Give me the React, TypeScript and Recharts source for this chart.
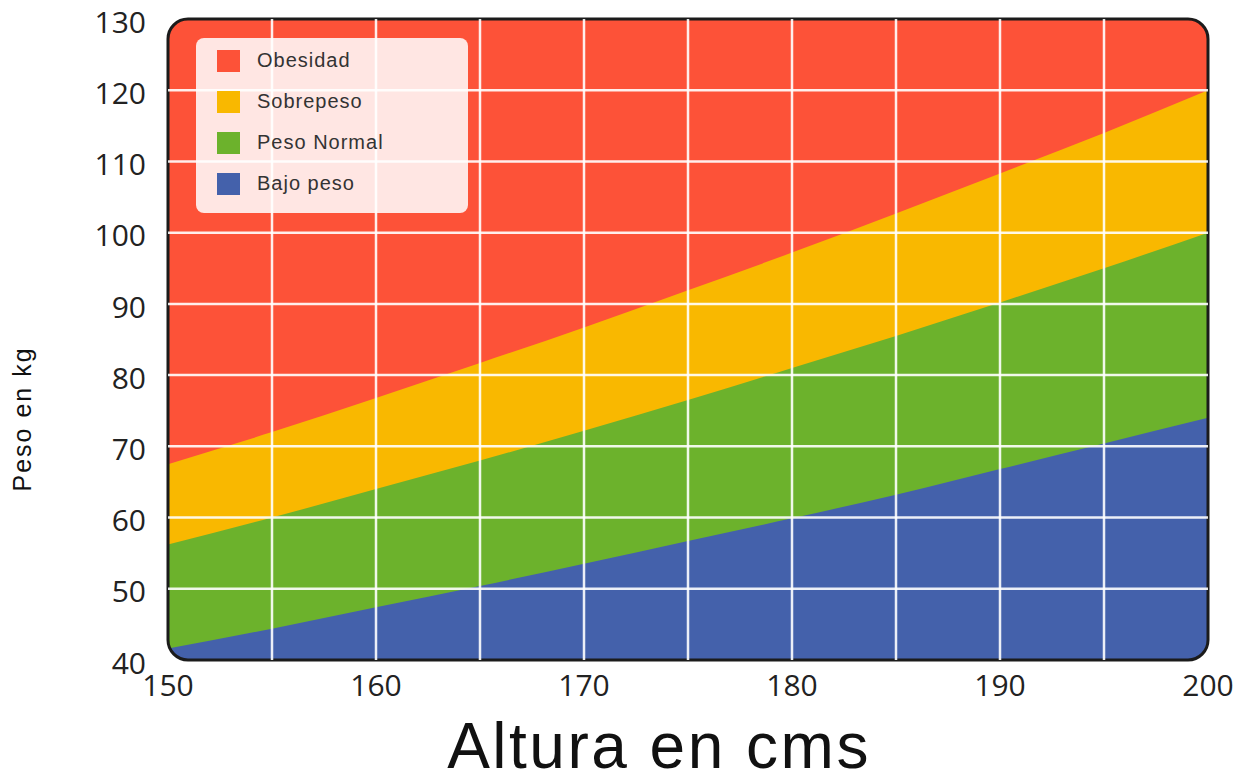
import React from 'react';
import { AreaChart, Area, XAxis, YAxis, ReferenceLine, ReferenceArea, Legend, Label } from 'recharts';

const heights = [150, 155, 160, 165, 170, 175, 180, 185, 190, 195, 200];
const bajoPeso = [41.6, 44.4, 47.4, 50.4, 53.5, 56.7, 59.9, 63.2, 66.8, 70.4, 74];
const pesoNormal = [56.2, 60, 64, 68, 72.2, 76.5, 81, 85.5, 90.2, 95, 100];
const sobrepeso = [67.5, 72, 76.8, 81.7, 86.7, 91.9, 97.2, 102.7, 108.3, 114, 120];
const obesidad = [130, 130, 130, 130, 130, 130, 130, 130, 130, 130, 130];

const xTicks = [150, 160, 170, 180, 190, 200];
const yTicks = [40, 50, 60, 70, 80, 90, 100, 110, 120, 130];
const xGrid = [155, 160, 165, 170, 175, 180, 185, 190, 195];
const yGrid = [50, 60, 70, 80, 90, 100, 110, 120];

const series = [
  { key: 'obesidad', name: 'Obesidad', color: '#FD5238' },
  { key: 'sobrepeso', name: 'Sobrepeso', color: '#F9B800' },
  { key: 'normal', name: 'Peso Normal', color: '#6CB22C' },
  { key: 'bajo', name: 'Bajo peso', color: '#4461AB' },
];

const data = heights.map((h, i) => ({
  altura: h,
  obesidad: obesidad[i],
  sobrepeso: sobrepeso[i],
  normal: pesoNormal[i],
  bajo: bajoPeso[i],
}));

const tickStyle = { fontSize: 30, fill: '#222', fontFamily: '"Open Sans", sans-serif' };

const FrameShape = (props: any) => {
  const { x, y, width, height } = props;
  const r = 20;
  const x2 = x + width;
  const y2 = y + height;
  const corners = [
    `M${x - 2},${y - 2} L${x + r},${y - 2} L${x + r},${y} A${r},${r} 0 0 0 ${x},${y + r} L${x - 2},${y + r} Z`,
    `M${x2 + 2},${y - 2} L${x2 - r},${y - 2} L${x2 - r},${y} A${r},${r} 0 0 1 ${x2},${y + r} L${x2 + 2},${y + r} Z`,
    `M${x - 2},${y2 + 2} L${x + r},${y2 + 2} L${x + r},${y2} A${r},${r} 0 0 1 ${x},${y2 - r} L${x - 2},${y2 - r} Z`,
    `M${x2 + 2},${y2 + 2} L${x2 - r},${y2 + 2} L${x2 - r},${y2} A${r},${r} 0 0 0 ${x2},${y2 - r} L${x2 + 2},${y2 - r} Z`,
  ];
  return (
    <g>
      {corners.map((d, i) => (
        <path key={i} d={d} fill="#fff" />
      ))}
      <rect x={x} y={y} width={width} height={height} rx={r} ry={r} fill="none" stroke="#1b1b1b" strokeWidth={3} />
    </g>
  );
};

const LegendBox = () => (
  <div
    style={{
      width: 272,
      height: 175,
      background: 'rgba(255,255,255,0.86)',
      borderRadius: 8,
      boxSizing: 'border-box',
      paddingTop: 2,
      fontFamily: '"Liberation Sans", Arial, sans-serif',
    }}
  >
    {series.map((s) => (
      <div key={s.key} style={{ display: 'flex', alignItems: 'center', height: 41, paddingLeft: 21 }}>
        <div style={{ width: 23, height: 22, background: s.color, marginRight: 17 }} />
        <span style={{ fontSize: 20, letterSpacing: 1, color: '#333' }}>{s.name}</span>
      </div>
    ))}
  </div>
);

export default function App() {
  return (
    <div style={{ position: 'absolute', left: 0, top: 0, background: '#fff' }}>
      <AreaChart width={1241} height={781} data={data} margin={{ top: 19, right: 33, left: 0, bottom: 0 }}>
        <XAxis
          dataKey="altura"
          type="number"
          domain={[150, 200]}
          ticks={xTicks}
          axisLine={false}
          tickLine={false}
          tickMargin={9}
          height={121}
          tick={tickStyle}
        >
          <Label
            content={(p: any) => (
              <text
                x={p.viewBox.x + p.viewBox.width / 2 - 29}
                y={768}
                textAnchor="middle"
                fontSize={64}
                letterSpacing={2.5}
                fill="#111"
                fontFamily='"Liberation Sans", Arial, sans-serif'
              >
                Altura en cms
              </text>
            )}
          />
        </XAxis>
        <YAxis
          type="number"
          domain={[40, 130]}
          ticks={yTicks}
          axisLine={false}
          tickLine={false}
          tickMargin={16}
          width={168}
          tick={{ ...tickStyle, dy: 3 }}
          allowDataOverflow
        >
          <Label
            content={() => (
              <text
                x={31}
                y={419}
                transform="rotate(-90 31 419)"
                textAnchor="middle"
                fontSize={25}
                letterSpacing={2}
                fill="#111"
                fontFamily='"Liberation Sans", Arial, sans-serif'
              >
                Peso en kg
              </text>
            )}
          />
        </YAxis>
        {series.map((s) => (
          <Area
            key={s.key}
            type="monotone"
            dataKey={s.key}
            name={s.name}
            stroke="none"
            fill={s.color}
            fillOpacity={1}
            isAnimationActive={false}
            dot={false}
            activeDot={false}
          />
        ))}
        {xGrid.map((v) => (
          <ReferenceLine key={'x' + v} x={v} stroke="#fff" strokeWidth={2.5} strokeOpacity={0.9} />
        ))}
        {yGrid.map((v) => (
          <ReferenceLine key={'y' + v} y={v} stroke="#fff" strokeWidth={2.5} strokeOpacity={0.9} />
        ))}
        <ReferenceArea x1={150} x2={200} y1={40} y2={130} ifOverflow="visible" shape={<FrameShape />} />
        <Legend
          layout="vertical"
          align="center"
          verticalAlign="middle"
          content={<LegendBox />}
          wrapperStyle={{ position: 'absolute', top: 38, left: 196, width: 272, height: 175 }}
        />
      </AreaChart>
    </div>
  );
}
